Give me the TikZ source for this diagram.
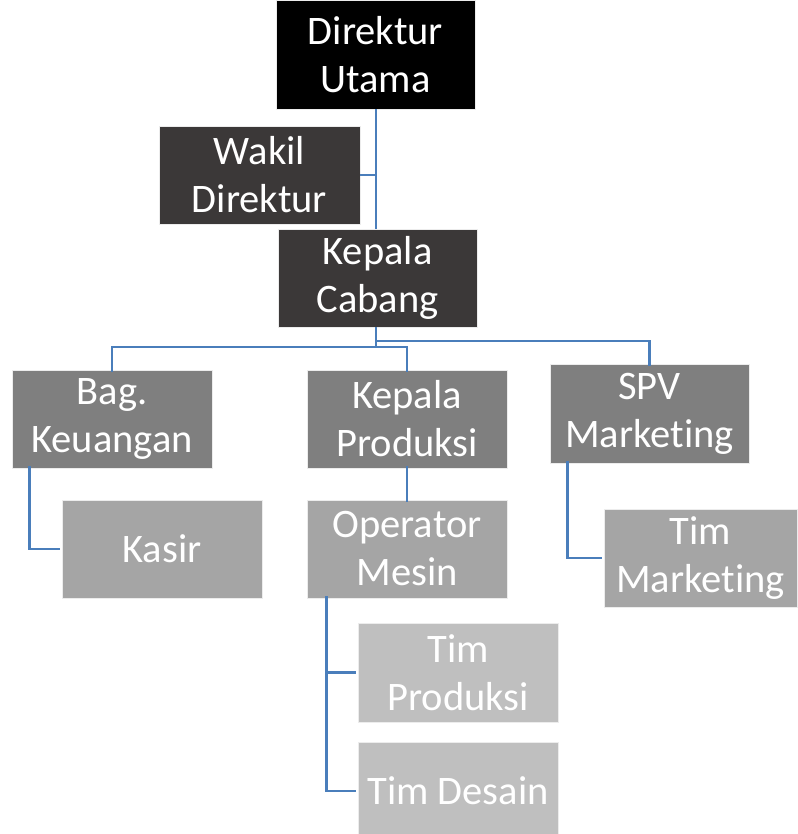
\documentclass[tikz,border=0pt]{standalone}
\usepackage{fontspec}
\setmainfont{Carlito}[Ligatures={NoCommon}]
\usetikzlibrary{calc}
\definecolor{lvA}{HTML}{000000}
\definecolor{lvB}{HTML}{3B3838}
\definecolor{lvC}{HTML}{7F7F7F}
\definecolor{lvD}{HTML}{A5A5A5}
\definecolor{lvE}{HTML}{BFBFBF}
\definecolor{conn}{HTML}{4A7EBB}
\tikzset{
  orgbox/.style={inner sep=0pt, text=white, align=center,
    font=\fontsize{40.5}{48}\selectfont, draw=white!85!gray, line width=0.6pt},
  link/.style={draw=conn, line width=2.9pt}
}
\begin{document}
\begin{tikzpicture}[x=1pt,y=-1pt]
\useasboundingbox (0,0) rectangle (797,834);
% boxes: centre, width, height
\node[orgbox, fill=lvA, minimum width=199pt, minimum height=109pt] (du) at (375.5,54.5) {Direktur\\Utama};
\node[orgbox, fill=lvB, minimum width=201pt, minimum height=98pt] (wd) at (259.5,175) {Wakil\\Direktur};
\node[orgbox, fill=lvB, minimum width=199pt, minimum height=98pt] (kc) at (377.5,278) {Kepala\\Cabang};
\node[orgbox, fill=lvC, minimum width=200pt, minimum height=98pt] (bk) at (112,419) {Bag.\\Keuangan};
\node[orgbox, fill=lvC, minimum width=200pt, minimum height=98pt] (kp) at (407,419) {Kepala\\Produksi};
\node[orgbox, fill=lvC, minimum width=199pt, minimum height=99pt] (spv) at (649.5,413.5) {SPV\\Marketing};
\node[orgbox, fill=lvD, minimum width=200pt, minimum height=98pt] (ks) at (162,549) {Kasir};
\node[orgbox, fill=lvD, minimum width=200pt, minimum height=98pt] (om) at (407,549) {Operator\\Mesin};
\node[orgbox, fill=lvD, minimum width=193pt, minimum height=98pt] (tm) at (700.5,558) {Tim\\Marketing};
\node[orgbox, fill=lvE, minimum width=200pt, minimum height=99pt] (tp) at (458,672.5) {Tim\\Produksi};
\node[orgbox, fill=lvE, minimum width=200pt, minimum height=98pt] (td) at (458,791) {Tim Desain};
% junction coordinates
\coordinate (jl) at (376,347);
\coordinate (jr) at (376,341);
% connectors
\draw[link] (du.south -| 376,0) -- (kc.north -| 376,0);
\draw[link] (wd.east) -- (wd.east -| 376,0);
\draw[link] (kc.south -| jl) -- (jl);
\draw[link] (jl) -| ([yshift=-2pt]bk.north);
\draw[link] (jl) -| ([yshift=-2pt]kp.north);
\draw[link] (jr) -| ([yshift=-2pt]spv.north);
\draw[link] ([xshift=18pt,yshift=2pt]bk.south west) |- ([xshift=-2pt]ks.west);
\draw[link] ([yshift=2pt]kp.south) -- ([yshift=-2pt]om.north);
\draw[link] ([xshift=18pt,yshift=2pt]spv.south west) |- ([xshift=-2pt]tm.west);
\draw[link] ([xshift=20pt,yshift=2pt]om.south west) |- ([xshift=-2pt]td.west);
\draw[link] ([xshift=20pt]om.south west |- tp.west) -- ([xshift=-2pt]tp.west);
\end{tikzpicture}
\end{document}
